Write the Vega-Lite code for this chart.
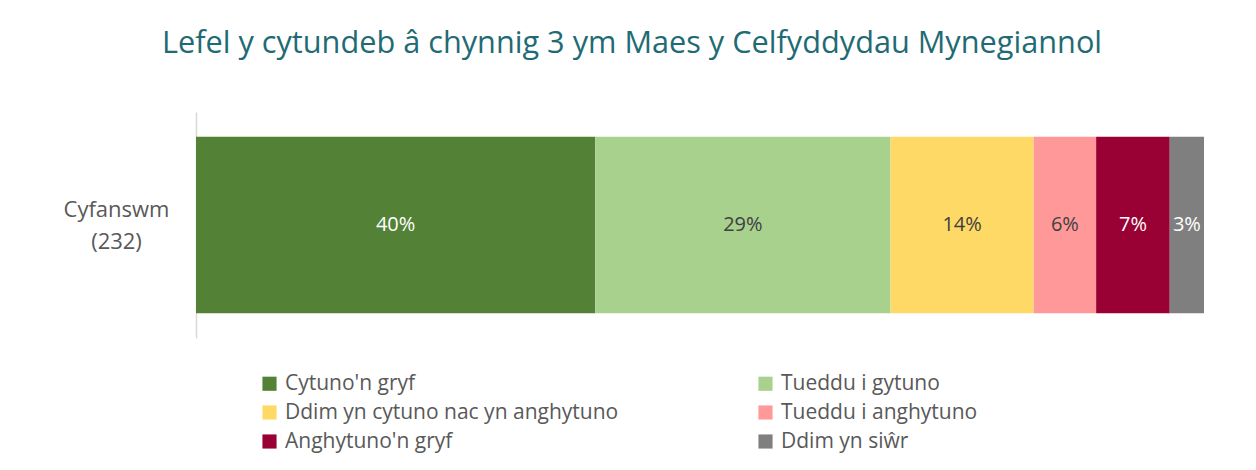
{
  "$schema": "https://vega.github.io/schema/vega-lite/v6.json",
  "autosize": {"type": "none"},
  "width": 1008,
  "height": 226,
  "padding": {"left": 196, "top": 112, "right": 52, "bottom": 132},
  "background": "white",
  "config": {"view": {"stroke": null}, "font": "Open Sans"},
  "title": {
    "text": "Lefel y cytundeb â chynnig 3 ym Maes y Celfyddydau Mynegiannol",
    "font": "Open Sans",
    "fontSize": 30.7,
    "fontWeight": "normal",
    "color": "#1F6B75",
    "anchor": "middle",
    "dx": -68,
    "offset": 52
  },
  "data": {
    "values": [
      {"group": "Cyfanswm|(232)", "cat": "Cytuno'n gryf", "value": 39.6, "label": "40%", "ord": 1},
      {"group": "Cyfanswm|(232)", "cat": "Tueddu i gytuno", "value": 29.3, "label": "29%", "ord": 2},
      {"group": "Cyfanswm|(232)", "cat": "Ddim yn cytuno nac yn anghytuno", "value": 14.2, "label": "14%", "ord": 3},
      {"group": "Cyfanswm|(232)", "cat": "Tueddu i anghytuno", "value": 6.2, "label": "6%", "ord": 4},
      {"group": "Cyfanswm|(232)", "cat": "Anghytuno'n gryf", "value": 7.3, "label": "7%", "ord": 5},
      {"group": "Cyfanswm|(232)", "cat": "Ddim yn siŵr", "value": 3.4, "label": "3%", "ord": 6}
    ]
  },
  "encoding": {
    "y": {
      "field": "group",
      "type": "nominal",
      "scale": {"paddingInner": 0.22, "paddingOuter": 0.11},
      "axis": {
        "title": null,
        "labelExpr": "split(datum.label, '|')",
        "labelAlign": "center",
        "labelBaseline": "middle",
        "labelPadding": 80,
        "labelOffset": -15,
        "labelFontSize": 22,
        "labelColor": "#595959",
        "labelLineHeight": 32,
        "ticks": false,
        "domainColor": "#D9D9D9",
        "domainWidth": 1.5
      }
    },
    "x": {
      "field": "value",
      "type": "quantitative",
      "stack": "zero",
      "scale": {"domain": [0, 100], "nice": false},
      "axis": null
    },
    "order": {"field": "ord", "type": "quantitative"}
  },
  "layer": [
    {
      "mark": {"type": "bar"},
      "encoding": {
        "color": {
          "field": "cat",
          "type": "nominal",
          "scale": {
            "domain": ["Cytuno'n gryf", "Ddim yn cytuno nac yn anghytuno", "Anghytuno'n gryf", "Tueddu i gytuno", "Tueddu i anghytuno", "Ddim yn siŵr"],
            "range": ["#538135", "#FFD966", "#990033", "#A9D18E", "#FF9999", "#7F7F7F"]
          },
          "legend": {
            "title": null,
            "orient": "none",
            "legendX": 63,
            "legendY": 261,
            "padding": 0,
            "columns": 2,
            "columnPadding": 136,
            "rowPadding": 7,
            "symbolType": "square",
            "symbolSize": 200,
            "symbolStrokeWidth": 0,
            "labelFontSize": 21,
            "labelColor": "#595959",
            "labelOffset": 5,
            "labelLimit": 600
          }
        }
      }
    },
    {
      "mark": {"type": "text", "fontSize": 20, "baseline": "middle", "align": "center"},
      "encoding": {
        "x": {"field": "value", "type": "quantitative", "stack": "zero", "bandPosition": 0.5},
        "text": {"field": "label", "type": "nominal"},
        "color": {
          "field": "cat",
          "type": "nominal",
          "scale": {
            "domain": ["Cytuno'n gryf", "Tueddu i gytuno", "Ddim yn cytuno nac yn anghytuno", "Tueddu i anghytuno", "Anghytuno'n gryf", "Ddim yn siŵr"],
            "range": ["#FFFFFF", "#404040", "#404040", "#404040", "#FFFFFF", "#FFFFFF"]
          },
          "legend": null
        }
      }
    }
  ],
  "resolve": {"scale": {"color": "independent"}}
}
